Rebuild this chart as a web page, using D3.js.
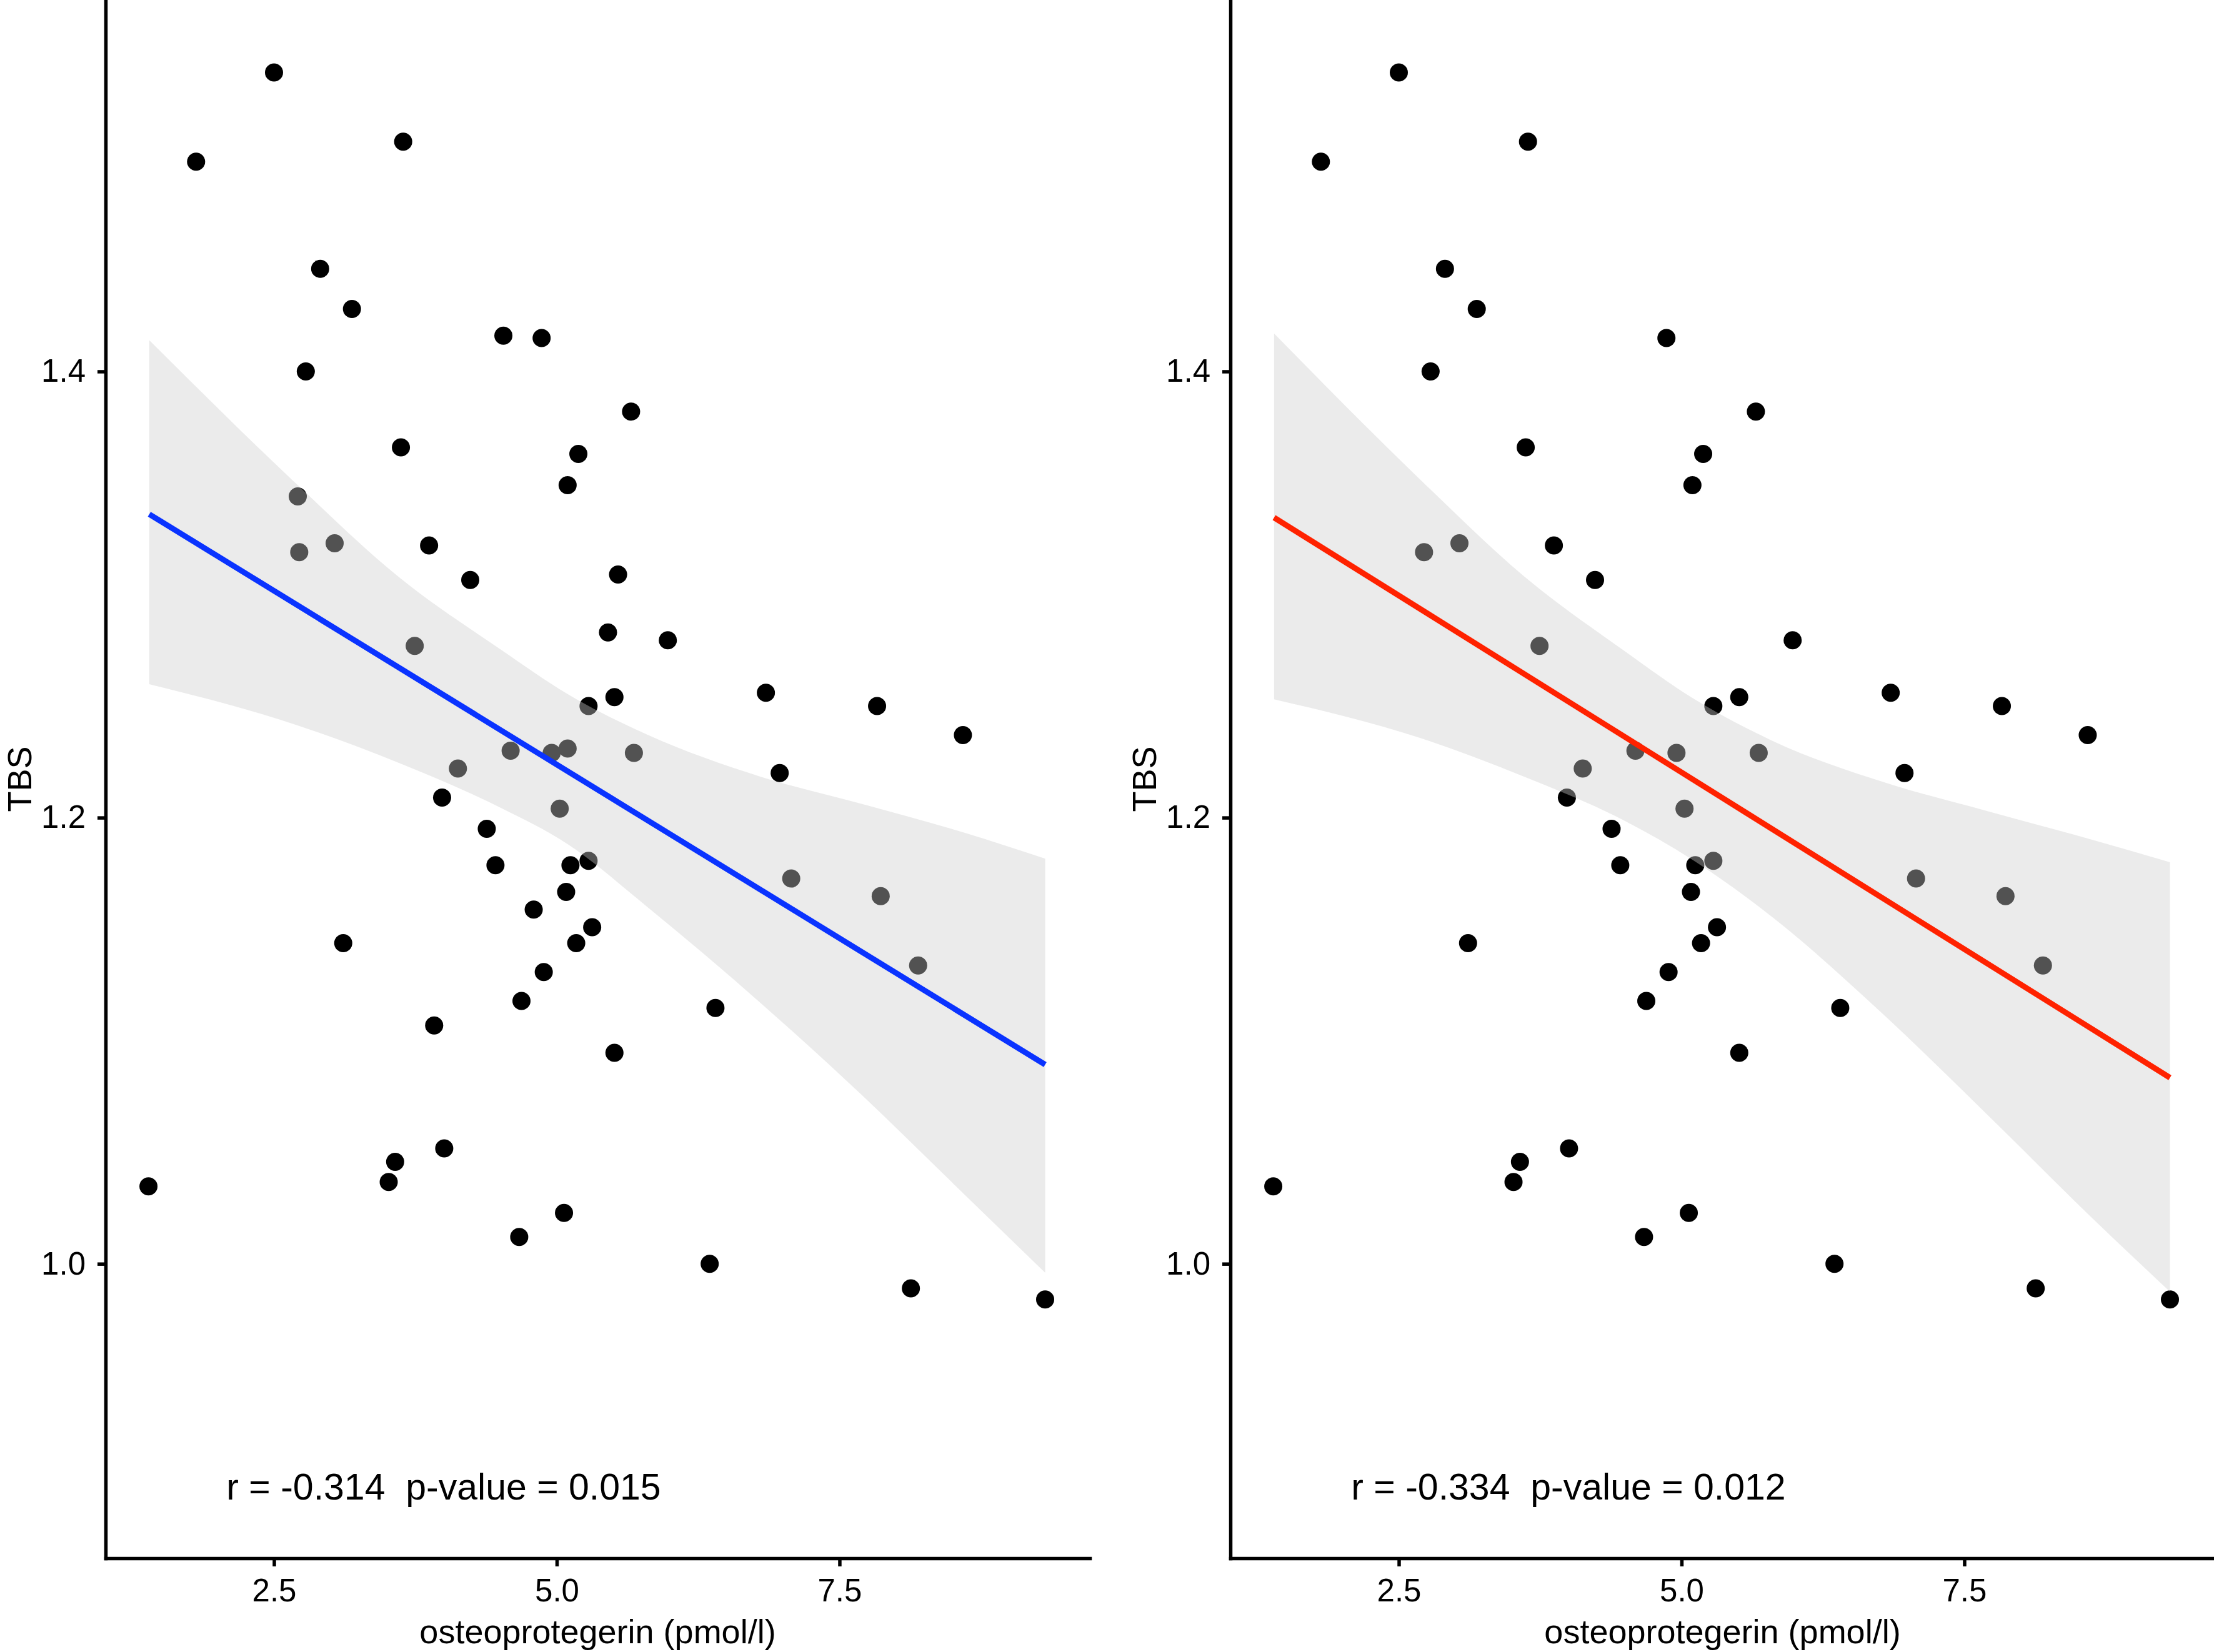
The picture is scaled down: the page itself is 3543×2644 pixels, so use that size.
<!DOCTYPE html>
<html lang="en">

<head>
    <meta charset="UTF-8">
    <title>TBS vs osteoprotegerin</title>
    <script src="https://d3js.org/d3.v7.min.js"></script>
    <style>
        body { margin: 0; background: #fff; }
        text { font-family: "Liberation Sans", Arial, sans-serif; fill: #000; }
    </style>
</head>

<body>
    <div id="chart"></div>
    <script>
        // ---- data ----
        // panel A: all points
        const opgA = [2.500, 1.811, 3.642, 2.908, 3.189, 4.528, 4.866, 2.781, 5.657, 3.622,
            5.191, 5.096, 2.710, 2.723, 3.036, 3.871, 4.235, 5.542, 3.744, 5.453,
            5.982, 6.849, 7.832, 5.510, 5.281, 8.591, 4.592, 4.955, 5.096, 5.682,
            6.971, 4.126, 3.986, 5.026, 4.381, 4.458, 5.121, 5.281, 7.073, 7.864,
            5.083, 4.796, 5.313, 3.112, 5.172, 8.195, 4.885, 4.688, 6.403, 3.916,
            5.510, 4.005, 3.571, 3.514, 1.390, 5.064, 4.668, 6.352, 8.131, 9.318];
        const tbsA = [1.534, 1.494, 1.503, 1.446, 1.428, 1.416, 1.415, 1.400, 1.382, 1.366,
            1.363, 1.349, 1.344, 1.319, 1.323, 1.322, 1.3065, 1.309, 1.277, 1.283,
            1.2795, 1.256, 1.250, 1.254, 1.250, 1.237, 1.230, 1.229, 1.231, 1.229,
            1.220, 1.222, 1.209, 1.204, 1.195, 1.1787, 1.1787, 1.1806, 1.1727, 1.1648,
            1.1667, 1.1588, 1.1509, 1.1437, 1.1437, 1.1337, 1.1308, 1.1178, 1.1147, 1.1068,
            1.0946, 1.0517, 1.0457, 1.0367, 1.0347, 1.0228, 1.0120, 1.0000, 0.9890, 0.9840];

        // panel B: same subjects minus a few
        const opgB = [2.500, 1.811, 3.642, 2.908, 3.189, 4.866, 2.781, 5.657, 3.622,
            5.191, 5.096, 2.723, 3.036, 3.871, 4.235, 3.744,
            5.982, 6.849, 7.832, 5.510, 5.281, 8.591, 4.592, 4.955, 5.682,
            6.971, 4.126, 3.986, 5.026, 4.381, 4.458, 5.121, 5.281, 7.073, 7.864,
            5.083, 5.313, 3.112, 5.172, 8.195, 4.885, 4.688, 6.403,
            5.510, 4.005, 3.571, 3.514, 1.390, 5.064, 4.668, 6.352, 8.131, 9.318];
        const tbsB = [1.534, 1.494, 1.503, 1.446, 1.428, 1.415, 1.400, 1.382, 1.366,
            1.363, 1.349, 1.319, 1.323, 1.322, 1.3065, 1.277,
            1.2795, 1.256, 1.250, 1.254, 1.250, 1.237, 1.230, 1.229, 1.229,
            1.220, 1.222, 1.209, 1.204, 1.195, 1.1787, 1.1787, 1.1806, 1.1727, 1.1648,
            1.1667, 1.1509, 1.1437, 1.1437, 1.1337, 1.1308, 1.1178, 1.1147,
            1.0946, 1.0517, 1.0457, 1.0367, 1.0347, 1.0228, 1.0120, 1.0000, 0.9890, 0.9840];

        // fitted line and confidence band
        const fitX = [1.397, 9.318];
        const fitA = [1.336, 1.0893];
        const fitB = [1.3345, 1.0834];
        const bandX = [1.397, 2.7, 3.6, 4.5, 5.1, 5.8, 6.8, 7.7, 8.6, 9.318];
        const upperA = [1.414, 1.3495, 1.308, 1.2755, 1.2553, 1.2372, 1.2184, 1.2061, 1.1933, 1.1816];
        const lowerA = [1.2598, 1.2415, 1.2246, 1.2045, 1.1880, 1.1600, 1.1170, 1.0755, 1.0313, 0.9960];
        const upperB = [1.417, 1.351, 1.3085, 1.2745, 1.2535, 1.2345, 1.2157, 1.2030, 1.1905, 1.1800];
        const lowerB = [1.253, 1.2355, 1.2185, 1.1985, 1.1810, 1.1555, 1.1110, 1.0670, 1.0220, 0.9875];

        const xTicks = [2.5, 5.0, 7.5];
        const yTicks = [1.0, 1.2, 1.4];
        const notes = ["r = -0.314  p-value = 0.015", "r = -0.334  p-value = 0.012"];
        const noteAt = [4.0, 0.9];

        // ---- layout ----
        const W = 3543, H = 2644;
        const panelLeft = 169, panelRight = 1744, panelBottom = 2494;
        const panelShift = 1800;

        const svg = d3.select("#chart").append("svg")
            .attr("width", W)
            .attr("height", H);

        svg.append("rect").attr("width", W).attr("height", H).attr("fill", "#fff");

        const x = d3.scaleLinear().domain([1.011, 9.713]).range([panelLeft, panelRight]);
        const y = d3.scaleLinear().domain([0.868, 1.5665]).range([panelBottom, 0]);

        function drawPanel(offset, opg, tbs, upper, lower, fit, color, note) {
            const g = svg.append("g").attr("transform", `translate(${offset},0)`);

            // points first, band drawn over them (as ggplot does)
            g.selectAll("circle")
                .data(opg.map((v, i) => [v, tbs[i]]))
                .enter().append("circle")
                .attr("cx", d => x(d[0]))
                .attr("cy", d => y(d[1]))
                .attr("r", 14.5)
                .attr("fill", "#000");

            const area = d3.area()
                .x(d => x(d[0]))
                .y0(d => y(d[1]))
                .y1(d => y(d[2]))
                .curve(d3.curveMonotoneX);

            g.append("path")
                .datum(bandX.map((v, i) => [v, lower[i], upper[i]]))
                .attr("d", area)
                .attr("fill", "#cccccc")
                .attr("fill-opacity", 0.4);

            const line = d3.line().x(d => x(d[0])).y(d => y(d[1]));
            g.append("path")
                .datum(fitX.map((v, i) => [v, fit[i]]))
                .attr("d", line)
                .attr("fill", "none")
                .attr("stroke", color)
                .attr("stroke-width", 9);

            // axes
            const xa = g.append("g")
                .attr("transform", `translate(0,${panelBottom})`)
                .call(d3.axisBottom(x).tickValues(xTicks).tickFormat(d3.format(".1f"))
                    .tickSize(13).tickSizeOuter(0).tickPadding(20));
            const ya = g.append("g")
                .attr("transform", `translate(${panelLeft},0)`)
                .call(d3.axisLeft(y).tickValues(yTicks).tickFormat(d3.format(".1f"))
                    .tickSize(13).tickSizeOuter(0).tickPadding(19));

            [xa, ya].forEach(a => {
                a.select(".domain").attr("stroke", "#000").attr("stroke-width", 5.5)
                    .attr("stroke-linecap", "square");
                a.selectAll(".tick line").attr("stroke", "#000").attr("stroke-width", 5.5);
                a.selectAll(".tick text").attr("font-size", 51)
                    .attr("font-family", "Liberation Sans, Arial, sans-serif").attr("fill", "#000");
            });

            g.append("text")
                .attr("x", (panelLeft + panelRight) / 2)
                .attr("y", 2630)
                .attr("text-anchor", "middle")
                .attr("font-size", 54)
                .text("osteoprotegerin (pmol/l)");

            g.append("text")
                .attr("transform", `translate(50,${panelBottom / 2}) rotate(-90)`)
                .attr("text-anchor", "middle")
                .attr("font-size", 54)
                .text("TBS");

            g.append("text")
                .attr("x", x(noteAt[0]))
                .attr("y", y(noteAt[1]))
                .attr("text-anchor", "middle")
                .attr("dominant-baseline", "central")
                .attr("font-size", 59)
                .style("white-space", "pre")
                .text(note);
        }

        drawPanel(0, opgA, tbsA, upperA, lowerA, fitA, "#0a33ff", notes[0]);
        drawPanel(panelShift, opgB, tbsB, upperB, lowerB, fitB, "#ff2200", notes[1]);
    </script>
</body>

</html>
